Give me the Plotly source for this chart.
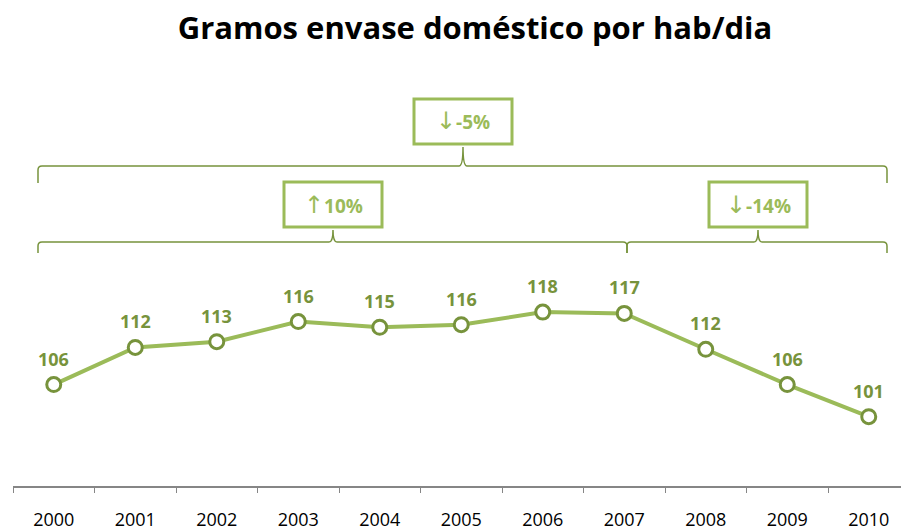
import plotly.graph_objects as go

# ---- data ----
years = ["2000", "2001", "2002", "2003", "2004", "2005", "2006", "2007", "2008", "2009", "2010"]
grams = [106.1, 112.0, 112.9, 116.1, 115.2, 115.6, 117.6, 117.4, 111.7, 106.1, 101.0]
period_arrows = ["↓", "↑", "↓"]
period_labels = ["-5%", "10%", "-14%"]

# ---- layout constants (pixels) ----
W, H = 901, 531
ML, MR, MT, MB = 13, 0, 45, 45
PW = W - ML - MR
PH = H - MT - MB

def PX(x):
    return (x - ML) / PW

def PY(y):
    return (H - MB - y) / PH

LINE = "#9BBB59"
DARK = "#77933C"
FONT = "Open Sans"

fig = go.Figure()
fig.add_trace(go.Scatter(
    x=years, y=grams, mode="lines+markers",
    line=dict(color=LINE, width=4),
    marker=dict(size=14, color="white", line=dict(color=DARK, width=3)),
    cliponaxis=False, hoverinfo="skip", showlegend=False,
))

annotations = []
for i, v in enumerate(grams):
    annotations.append(dict(
        x=i, y=v, xref="x", yref="y", text=f"{v:.0f}", showarrow=False,
        yshift=26, font=dict(family=FONT, size=18, color=DARK, weight="bold"),
    ))

def brace(x0, x1, cx, yline, ytip, yend, r=4):
    pts = [
        ("M", [(x0, yend)]),
        ("L", [(x0, yline + r)]),
        ("Q", [(x0, yline), (x0 + r, yline)]),
        ("L", [(cx - r, yline)]),
        ("Q", [(cx, yline), (cx, ytip)]),
        ("Q", [(cx, yline), (cx + r, yline)]),
        ("L", [(x1 - r, yline)]),
        ("Q", [(x1, yline), (x1, yline + r)]),
        ("L", [(x1, yend)]),
    ]
    s = ""
    for cmd, ps in pts:
        s += cmd + " " + " ".join(f"{PX(a):.5f},{PY(b):.5f}" for a, b in ps) + " "
    return s.strip()

shapes = []
for args in [(38, 887, 463, 166, 147, 183), (38, 627, 333, 242, 230, 253), (627, 887, 758, 242, 230, 253)]:
    shapes.append(dict(type="path", xref="paper", yref="paper", path=brace(*args),
                       line=dict(color=DARK, width=1.5)))

boxes = [(414, 512, 99, 144), (284, 382, 182, 227), (709, 807, 182, 227)]
for (x0, x1, y0, y1), arr, lab in zip(boxes, period_arrows, period_labels):
    shapes.append(dict(type="rect", xref="paper", yref="paper",
                       x0=PX(x0), x1=PX(x1), y0=PY(y1), y1=PY(y0),
                       line=dict(color=LINE, width=3), fillcolor="white"))
    txt = (f"<span style='font-family:DejaVu Sans;font-weight:normal;font-size:24px'>{arr}</span>"
           f"{lab}")
    annotations.append(dict(x=PX((x0 + x1) / 2), y=PY((y0 + y1) / 2), xref="paper", yref="paper",
                            text=txt, showarrow=False, xanchor="center", yanchor="middle",
                            font=dict(family=FONT, size=19, color=LINE, weight="bold")))

fig.update_layout(
    width=W, height=H,
    margin=dict(l=ML, r=MR, t=MT, b=MB),
    paper_bgcolor="white", plot_bgcolor="white",
    title=dict(text="Gramos envase doméstico por hab/dia", x=475 / W, xanchor="center",
               y=1 - 28 / H, yanchor="middle", xref="container", yref="container",
               font=dict(family=FONT, size=31, color="black", weight="bold")),
    xaxis=dict(
        type="category", range=[-0.5, -0.5 + PW / 81.5], tickson="boundaries",
        ticks="outside", ticklen=5, tickcolor="#868686", tickwidth=1,
        showline=True, linecolor="#868686", linewidth=2, showgrid=False, zeroline=False,
        tickfont=dict(family=FONT, size=18, color="black"), ticklabelstandoff=16,
    ),
    yaxis=dict(range=[90, 90 + PH / 6.3], visible=False, showgrid=False),
    shapes=shapes, annotations=annotations,
)

fig.write_html("out.html", config={"displayModeBar": False},
               post_script="document.body.style.margin='0';document.body.style.overflow='hidden';")
